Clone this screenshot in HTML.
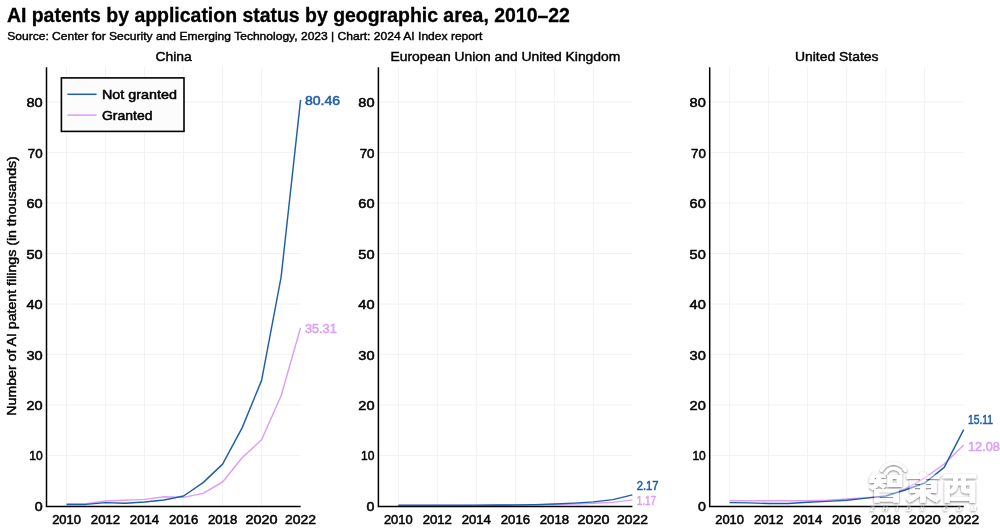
<!DOCTYPE html>
<html lang="en"><head><meta charset="utf-8"><title>AI patents by application status by geographic area, 2010–22</title>
<style>
html,body{margin:0;padding:0;background:#fff}
body{width:1000px;height:530px;position:relative;overflow:hidden;font-family:"Liberation Sans","Noto Sans CJK SC",sans-serif}
svg text{font-family:"Liberation Sans","Noto Sans CJK SC",sans-serif;fill:#000;stroke:#000;stroke-width:.42px}
.tk{font-size:12.5px;stroke-width:.5px}
.pt{font-size:13px}
.lb{font-size:12.2px;stroke-width:.5px}
.yl{font-size:12.3px}
.lg{font-size:12.8px;stroke-width:.5px}
.ti{font-size:19.5px;font-weight:bold;stroke-width:.3px}
.su{font-size:11.8px}
.wm text{fill:#fff;stroke:none}
.wm1{font-size:31px;font-weight:900;font-family:"Liberation Sans","Noto Sans CJK TC","Noto Sans CJK SC",sans-serif}
.wm2{font-size:7px;font-style:italic;font-weight:bold}
</style></head><body>
<svg width="1000" height="530" viewBox="0 0 1000 530" style="position:absolute;left:0;top:0">
<rect width="1000" height="530" fill="#fff"/>
<path d="M46.5 455.4H300.6M46.5 404.9H300.6M46.5 354.4H300.6M46.5 304.0H300.6M46.5 253.5H300.6M46.5 203.0H300.6M46.5 152.6H300.6M46.5 102.1H300.6M66.5 66.8V506.5M105.5 66.8V506.5M144.5 66.8V506.5M183.6 66.8V506.5M222.6 66.8V506.5M261.6 66.8V506.5" stroke="#f2f2f2" stroke-width="1" fill="none"/>
<polyline points="66.5,504.0 86.0,503.6 105.5,501.0 125.0,500.2 144.5,499.4 164.1,496.8 183.6,497.4 203.1,493.4 222.6,482.0 242.1,457.8 261.6,439.7 281.1,395.8 300.6,327.6" stroke="#db9ef6" stroke-width="1.45" fill="none" stroke-linejoin="round"/>
<polyline points="66.5,504.4 86.0,504.4 105.5,502.6 125.0,503.2 144.5,502.0 164.1,500.0 183.6,496.0 203.1,482.6 222.6,464.1 242.1,427.9 261.6,380.4 281.1,277.2 300.6,99.8" stroke="#1f5ea8" stroke-width="1.45" fill="none" stroke-linejoin="round"/>
<path d="M46.5 67.2V507.3M45.7 506.5H300.6" stroke="#000" stroke-width="1.5" fill="none"/>
<text class="tk" x="42.6" y="510.9" text-anchor="end" textLength="7.9" lengthAdjust="spacingAndGlyphs">0</text>
<text class="tk" x="42.6" y="460.4" text-anchor="end" textLength="13.4" lengthAdjust="spacingAndGlyphs">10</text>
<text class="tk" x="42.6" y="410.0" text-anchor="end" textLength="16.2" lengthAdjust="spacingAndGlyphs">20</text>
<text class="tk" x="42.6" y="359.5" text-anchor="end" textLength="16.2" lengthAdjust="spacingAndGlyphs">30</text>
<text class="tk" x="42.6" y="309.0" text-anchor="end" textLength="16.2" lengthAdjust="spacingAndGlyphs">40</text>
<text class="tk" x="42.6" y="258.6" text-anchor="end" textLength="16.2" lengthAdjust="spacingAndGlyphs">50</text>
<text class="tk" x="42.6" y="208.1" text-anchor="end" textLength="16.2" lengthAdjust="spacingAndGlyphs">60</text>
<text class="tk" x="42.6" y="157.6" text-anchor="end" textLength="14.8" lengthAdjust="spacingAndGlyphs">70</text>
<text class="tk" x="42.6" y="107.1" text-anchor="end" textLength="16.2" lengthAdjust="spacingAndGlyphs">80</text>
<text class="tk" x="66.5" y="523.7" text-anchor="middle" textLength="28.7" lengthAdjust="spacingAndGlyphs">2010</text>
<text class="tk" x="105.5" y="523.7" text-anchor="middle" textLength="29.3" lengthAdjust="spacingAndGlyphs">2012</text>
<text class="tk" x="144.5" y="523.7" text-anchor="middle" textLength="29.3" lengthAdjust="spacingAndGlyphs">2014</text>
<text class="tk" x="183.6" y="523.7" text-anchor="middle" textLength="29.3" lengthAdjust="spacingAndGlyphs">2016</text>
<text class="tk" x="222.6" y="523.7" text-anchor="middle" textLength="29.3" lengthAdjust="spacingAndGlyphs">2018</text>
<text class="tk" x="261.6" y="523.7" text-anchor="middle" textLength="32.0" lengthAdjust="spacingAndGlyphs">2020</text>
<text class="tk" x="300.6" y="523.7" text-anchor="middle" textLength="31.0" lengthAdjust="spacingAndGlyphs">2022</text>
<text class="pt" x="173.6" y="61.1" text-anchor="middle" textLength="36.4" lengthAdjust="spacingAndGlyphs">China</text>
<text class="lb" x="304.9" y="104.6" textLength="35.2" lengthAdjust="spacingAndGlyphs" style="fill:#1f5ea8;stroke:#1f5ea8">80.46</text>
<text class="lb" x="304.9" y="332.8" textLength="31.9" lengthAdjust="spacingAndGlyphs" style="fill:#db9ef6;stroke:#db9ef6">35.31</text>
<path d="M378.4 455.4H632.4M378.4 404.9H632.4M378.4 354.4H632.4M378.4 304.0H632.4M378.4 253.5H632.4M378.4 203.0H632.4M378.4 152.6H632.4M378.4 102.1H632.4M398.3 66.8V506.5M437.3 66.8V506.5M476.3 66.8V506.5M515.4 66.8V506.5M554.4 66.8V506.5M593.4 66.8V506.5" stroke="#f2f2f2" stroke-width="1" fill="none"/>
<polyline points="398.3,505.4 417.8,505.4 437.3,505.4 456.8,505.4 476.3,505.4 495.9,505.3 515.4,505.2 534.9,505.0 554.4,504.5 573.9,504.0 593.4,503.3 612.9,502.4 632.4,499.9" stroke="#db9ef6" stroke-width="1.45" fill="none" stroke-linejoin="round"/>
<polyline points="398.3,505.1 417.8,505.1 437.3,505.1 456.8,505.1 476.3,505.1 495.9,505.0 515.4,504.9 534.9,504.6 554.4,504.0 573.9,503.1 593.4,501.9 612.9,499.6 632.4,494.9" stroke="#1f5ea8" stroke-width="1.45" fill="none" stroke-linejoin="round"/>
<path d="M378.4 67.2V507.3M377.6 506.5H632.4" stroke="#000" stroke-width="1.5" fill="none"/>
<text class="tk" x="374.5" y="510.9" text-anchor="end" textLength="7.9" lengthAdjust="spacingAndGlyphs">0</text>
<text class="tk" x="374.5" y="460.4" text-anchor="end" textLength="13.4" lengthAdjust="spacingAndGlyphs">10</text>
<text class="tk" x="374.5" y="410.0" text-anchor="end" textLength="16.2" lengthAdjust="spacingAndGlyphs">20</text>
<text class="tk" x="374.5" y="359.5" text-anchor="end" textLength="16.2" lengthAdjust="spacingAndGlyphs">30</text>
<text class="tk" x="374.5" y="309.0" text-anchor="end" textLength="16.2" lengthAdjust="spacingAndGlyphs">40</text>
<text class="tk" x="374.5" y="258.6" text-anchor="end" textLength="16.2" lengthAdjust="spacingAndGlyphs">50</text>
<text class="tk" x="374.5" y="208.1" text-anchor="end" textLength="16.2" lengthAdjust="spacingAndGlyphs">60</text>
<text class="tk" x="374.5" y="157.6" text-anchor="end" textLength="14.8" lengthAdjust="spacingAndGlyphs">70</text>
<text class="tk" x="374.5" y="107.1" text-anchor="end" textLength="16.2" lengthAdjust="spacingAndGlyphs">80</text>
<text class="tk" x="398.3" y="523.7" text-anchor="middle" textLength="28.7" lengthAdjust="spacingAndGlyphs">2010</text>
<text class="tk" x="437.3" y="523.7" text-anchor="middle" textLength="29.3" lengthAdjust="spacingAndGlyphs">2012</text>
<text class="tk" x="476.3" y="523.7" text-anchor="middle" textLength="29.3" lengthAdjust="spacingAndGlyphs">2014</text>
<text class="tk" x="515.4" y="523.7" text-anchor="middle" textLength="29.3" lengthAdjust="spacingAndGlyphs">2016</text>
<text class="tk" x="554.4" y="523.7" text-anchor="middle" textLength="29.3" lengthAdjust="spacingAndGlyphs">2018</text>
<text class="tk" x="593.4" y="523.7" text-anchor="middle" textLength="32.0" lengthAdjust="spacingAndGlyphs">2020</text>
<text class="tk" x="632.4" y="523.7" text-anchor="middle" textLength="31.0" lengthAdjust="spacingAndGlyphs">2022</text>
<text class="pt" x="505.4" y="61.1" text-anchor="middle" textLength="229.8" lengthAdjust="spacingAndGlyphs">European Union and United Kingdom</text>
<text class="lb" x="636.7" y="490.3" textLength="21.9" lengthAdjust="spacingAndGlyphs" style="fill:#1f5ea8;stroke:#1f5ea8">2.17</text>
<text class="lb" x="636.7" y="505.2" textLength="19.4" lengthAdjust="spacingAndGlyphs" style="fill:#db9ef6;stroke:#db9ef6">1.17</text>
<path d="M709.7 455.4H963.7M709.7 404.9H963.7M709.7 354.4H963.7M709.7 304.0H963.7M709.7 253.5H963.7M709.7 203.0H963.7M709.7 152.6H963.7M709.7 102.1H963.7M729.6 66.8V506.5M768.6 66.8V506.5M807.6 66.8V506.5M846.7 66.8V506.5M885.7 66.8V506.5M924.7 66.8V506.5" stroke="#f2f2f2" stroke-width="1" fill="none"/>
<polyline points="729.6,500.8 749.1,500.8 768.6,500.8 788.1,500.8 807.6,500.7 827.2,500.2 846.7,499.0 866.2,497.8 885.7,496.3 905.2,489.0 924.7,478.0 944.2,464.0 963.7,444.9" stroke="#db9ef6" stroke-width="1.45" fill="none" stroke-linejoin="round"/>
<polyline points="729.6,502.6 749.1,502.9 768.6,503.5 788.1,503.5 807.6,502.3 827.2,501.4 846.7,500.2 866.2,498.1 885.7,496.0 905.2,490.0 924.7,483.0 944.2,467.4 963.7,429.6" stroke="#1f5ea8" stroke-width="1.45" fill="none" stroke-linejoin="round"/>
<path d="M709.7 67.2V507.3M708.9 506.5H963.7" stroke="#000" stroke-width="1.5" fill="none"/>
<text class="tk" x="705.8" y="510.9" text-anchor="end" textLength="7.9" lengthAdjust="spacingAndGlyphs">0</text>
<text class="tk" x="705.8" y="460.4" text-anchor="end" textLength="13.4" lengthAdjust="spacingAndGlyphs">10</text>
<text class="tk" x="705.8" y="410.0" text-anchor="end" textLength="16.2" lengthAdjust="spacingAndGlyphs">20</text>
<text class="tk" x="705.8" y="359.5" text-anchor="end" textLength="16.2" lengthAdjust="spacingAndGlyphs">30</text>
<text class="tk" x="705.8" y="309.0" text-anchor="end" textLength="16.2" lengthAdjust="spacingAndGlyphs">40</text>
<text class="tk" x="705.8" y="258.6" text-anchor="end" textLength="16.2" lengthAdjust="spacingAndGlyphs">50</text>
<text class="tk" x="705.8" y="208.1" text-anchor="end" textLength="16.2" lengthAdjust="spacingAndGlyphs">60</text>
<text class="tk" x="705.8" y="157.6" text-anchor="end" textLength="14.8" lengthAdjust="spacingAndGlyphs">70</text>
<text class="tk" x="705.8" y="107.1" text-anchor="end" textLength="16.2" lengthAdjust="spacingAndGlyphs">80</text>
<text class="tk" x="729.6" y="523.7" text-anchor="middle" textLength="28.7" lengthAdjust="spacingAndGlyphs">2010</text>
<text class="tk" x="768.6" y="523.7" text-anchor="middle" textLength="29.3" lengthAdjust="spacingAndGlyphs">2012</text>
<text class="tk" x="807.6" y="523.7" text-anchor="middle" textLength="29.3" lengthAdjust="spacingAndGlyphs">2014</text>
<text class="tk" x="846.7" y="523.7" text-anchor="middle" textLength="29.3" lengthAdjust="spacingAndGlyphs">2016</text>
<text class="tk" x="885.7" y="523.7" text-anchor="middle" textLength="29.3" lengthAdjust="spacingAndGlyphs">2018</text>
<text class="tk" x="924.7" y="523.7" text-anchor="middle" textLength="32.0" lengthAdjust="spacingAndGlyphs">2020</text>
<text class="tk" x="963.7" y="523.7" text-anchor="middle" textLength="31.0" lengthAdjust="spacingAndGlyphs">2022</text>
<text class="pt" x="836.7" y="61.1" text-anchor="middle" textLength="83.6" lengthAdjust="spacingAndGlyphs">United States</text>
<text class="lb" x="968.0" y="424.4" textLength="25.0" lengthAdjust="spacingAndGlyphs" style="fill:#1f5ea8;stroke:#1f5ea8">15.11</text>
<text class="lb" x="968.0" y="450.6" textLength="31.8" lengthAdjust="spacingAndGlyphs" style="fill:#db9ef6;stroke:#db9ef6">12.08</text>
<text class="yl" transform="translate(16.4,285.9) rotate(-90)" text-anchor="middle" textLength="259.5" lengthAdjust="spacingAndGlyphs">Number of AI patent filings (in thousands)</text>
<rect x="61.4" y="77.9" width="122.6" height="53.5" fill="#fcfcfc" stroke="#000" stroke-width="1.6"/>
<path d="M67.4 94.3H96.6" stroke="#1f5ea8" stroke-width="1.5"/>
<path d="M67.4 115.1H96.6" stroke="#db9ef6" stroke-width="1.5"/>
<text class="lg" x="102.0" y="99.4" textLength="75.0" lengthAdjust="spacingAndGlyphs">Not granted</text>
<text class="lg" x="102.0" y="120.4" textLength="50.5" lengthAdjust="spacingAndGlyphs">Granted</text>
<text class="ti" x="6.9" y="21.5" textLength="563.0" lengthAdjust="spacingAndGlyphs">AI patents by application status by geographic area, 2010–22</text>
<text class="su" x="7.2" y="40.4" textLength="475.2" lengthAdjust="spacingAndGlyphs">Source: Center for Security and Emerging Technology, 2023 | Chart: 2024 AI Index report</text>
<defs><filter id="ws" x="-10%" y="-10%" width="120%" height="130%"><feGaussianBlur in="SourceAlpha" stdDeviation="1.1" result="b"/><feOffset in="b" dx="0.4" dy="0.5" result="o"/><feComposite in="o" in2="SourceAlpha" operator="out" result="sh"/><feColorMatrix in="sh" type="matrix" values="0 0 0 0 0  0 0 0 0 0  0 0 0 0 0  0 0 0 0.55 0" result="shc"/><feColorMatrix in="SourceGraphic" type="matrix" values="1 0 0 0 0  0 1 0 0 0  0 0 1 0 0  0 0 0 0.42 0" result="src"/><feMerge><feMergeNode in="shc"/><feMergeNode in="src"/></feMerge></filter></defs>
<g class="wm" filter="url(#ws)"><path d="M881.5 470.5A13.5 13.5 0 0 1 905.5 470.5M885.8 473.5A8.5 8.5 0 0 1 901.2 473.5" fill="none" stroke="#fff" stroke-width="3" stroke-linecap="round"/><text class="wm1" x="868" y="499" textLength="110" lengthAdjust="spacingAndGlyphs">智東西</text><text class="wm2" x="870" y="510.5" textLength="106" lengthAdjust="spacing">ZHIDX.COM</text></g>
</svg>
</body></html>
